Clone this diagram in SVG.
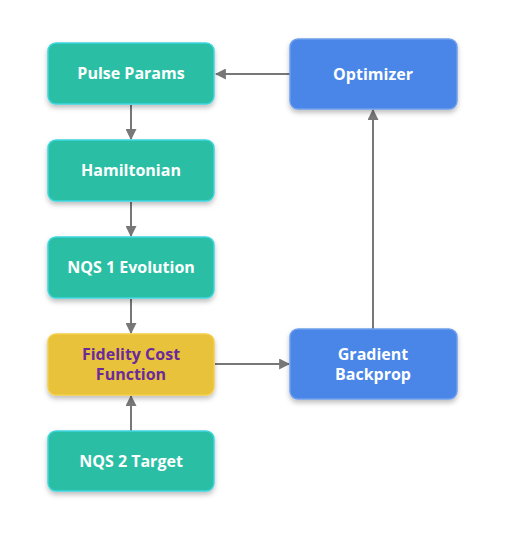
<svg xmlns="http://www.w3.org/2000/svg" width="505" height="535" viewBox="0 0 505 535">
<defs>
<filter id="sh" x="-20%" y="-20%" width="140%" height="150%">
<feDropShadow dx="0" dy="3" stdDeviation="2.5" flood-color="#000" flood-opacity="0.25"/>
</filter>
<marker id="ah" viewBox="0 0 10 10" refX="9" refY="5" markerWidth="11" markerHeight="11" markerUnits="userSpaceOnUse" orient="auto">
<path d="M0,0 L10,5 L0,10 z" fill="#777"/>
</marker>
<style>
.teal{fill:#2BBFA5;stroke:#3CD6DE;stroke-width:1.5;filter:url(#sh)}
.blue{fill:#4A86E8;stroke:#6C9EEC;stroke-width:1.5;filter:url(#sh)}
.yel{fill:#E9C23A;stroke:#F3CE48;stroke-width:1.5;filter:url(#sh)}
text{font-family:"Open Sans","DejaVu Sans",sans-serif;font-weight:700;font-size:16px;text-anchor:middle}
.w{fill:#fff}
.p{fill:#6A2A9C}
.c{stroke:#777;stroke-width:2;fill:none;marker-end:url(#ah)}
</style>
</defs>
<rect width="505" height="535" fill="#fff"/>
<g id="connectors">
<line class="c" x1="131" y1="105" x2="131" y2="139"/>
<line class="c" x1="131" y1="202" x2="131" y2="236"/>
<line class="c" x1="131" y1="299" x2="131" y2="333"/>
<line class="c" x1="131" y1="431" x2="131" y2="396"/>
<line class="c" x1="215" y1="364" x2="289" y2="364"/>
<line class="c" x1="373" y1="329" x2="373" y2="110"/>
<line class="c" x1="290" y1="74" x2="216" y2="74"/>
</g>
<g id="pulse"><rect class="teal" x="48" y="43" width="166" height="61" rx="8"/><text class="w" x="131" y="79">Pulse Params</text></g>
<g id="hamiltonian"><rect class="teal" x="48" y="140" width="166" height="61" rx="8"/><text class="w" x="131" y="176">Hamiltonian</text></g>
<g id="nqs1"><rect class="teal" x="48" y="237" width="166" height="61" rx="8"/><text class="w" x="131" y="273">NQS 1 Evolution</text></g>
<g id="fidelity"><rect class="yel" x="48" y="334" width="166" height="61" rx="8"/><text class="p" x="131" y="360">Fidelity Cost</text><text class="p" x="131" y="380">Function</text></g>
<g id="nqs2"><rect class="teal" x="48" y="431" width="166" height="60" rx="8"/><text class="w" x="131" y="467">NQS 2 Target</text></g>
<g id="optimizer"><rect class="blue" x="290" y="39" width="167" height="70" rx="8"/><text class="w" x="373" y="80">Optimizer</text></g>
<g id="gradient"><rect class="blue" x="290" y="329" width="167" height="70" rx="8"/><text class="w" x="373" y="360">Gradient</text><text class="w" x="373" y="380">Backprop</text></g>
</svg>
